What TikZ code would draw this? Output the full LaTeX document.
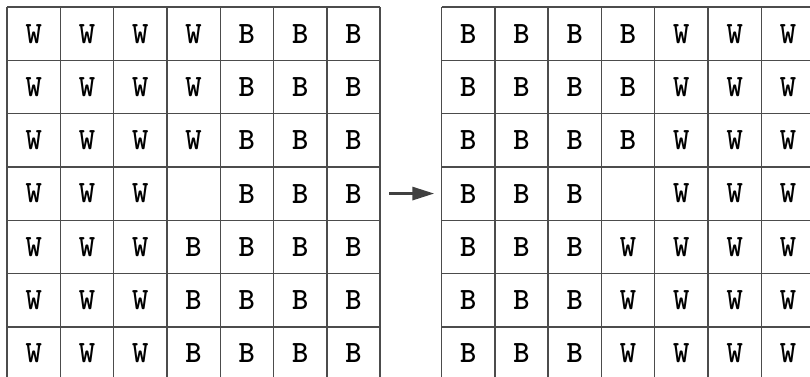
\documentclass[tikz,border=0pt]{standalone}
\usepackage{fontspec}
\usetikzlibrary{arrows.meta}

\tikzset{
  cell/.style={minimum size=53.3pt,inner sep=0pt,
               font=\ttfamily\bfseries\fontsize{31}{31}\selectfont},
  board/.style={draw=black!70,line width=1.4pt},
  move/.style={draw=black!75,line width=3pt,-{Triangle[length=22pt,width=13pt]}}
}

\begin{document}
\begin{tikzpicture}[x=1pt,y=-1pt]
\useasboundingbox (0,0) rectangle (810,376);

% boards: lines
\foreach \ox in {7,441.5}
  \foreach \i in {0,...,7} {
    \draw[board] ({\ox+53.3*\i},7) -- ({\ox+53.3*\i},380.1);
    \draw[board] (\ox,{7+53.3*\i}) -- ({\ox+373.1},{7+53.3*\i});
  }

% left board
\foreach \row [count=\r] in {{W,W,W,W,B,B,B},{W,W,W,W,B,B,B},{W,W,W,W,B,B,B},
    {W,W,W,,B,B,B},{W,W,W,B,B,B,B},{W,W,W,B,B,B,B},{W,W,W,B,B,B,B}}
  \foreach \c [count=\k] in \row
    \node[cell] (L-\r-\k) at ({7+53.3*(\k-0.5)},{7+53.3*(\r-0.5)}) {\c};

% right board
\foreach \row [count=\r] in {{B,B,B,B,W,W,W},{B,B,B,B,W,W,W},{B,B,B,B,W,W,W},
    {B,B,B,,W,W,W},{B,B,B,W,W,W,W},{B,B,B,W,W,W,W},{B,B,B,W,W,W,W}}
  \foreach \c [count=\k] in \row
    \node[cell] (R-\r-\k) at ({441.5+53.3*(\k-0.5)},{7+53.3*(\r-0.5)}) {\c};

\draw[move] ([xshift=9pt]L-4-7.east) -- ([xshift=-7pt]R-4-1.west);
\end{tikzpicture}
\end{document}
